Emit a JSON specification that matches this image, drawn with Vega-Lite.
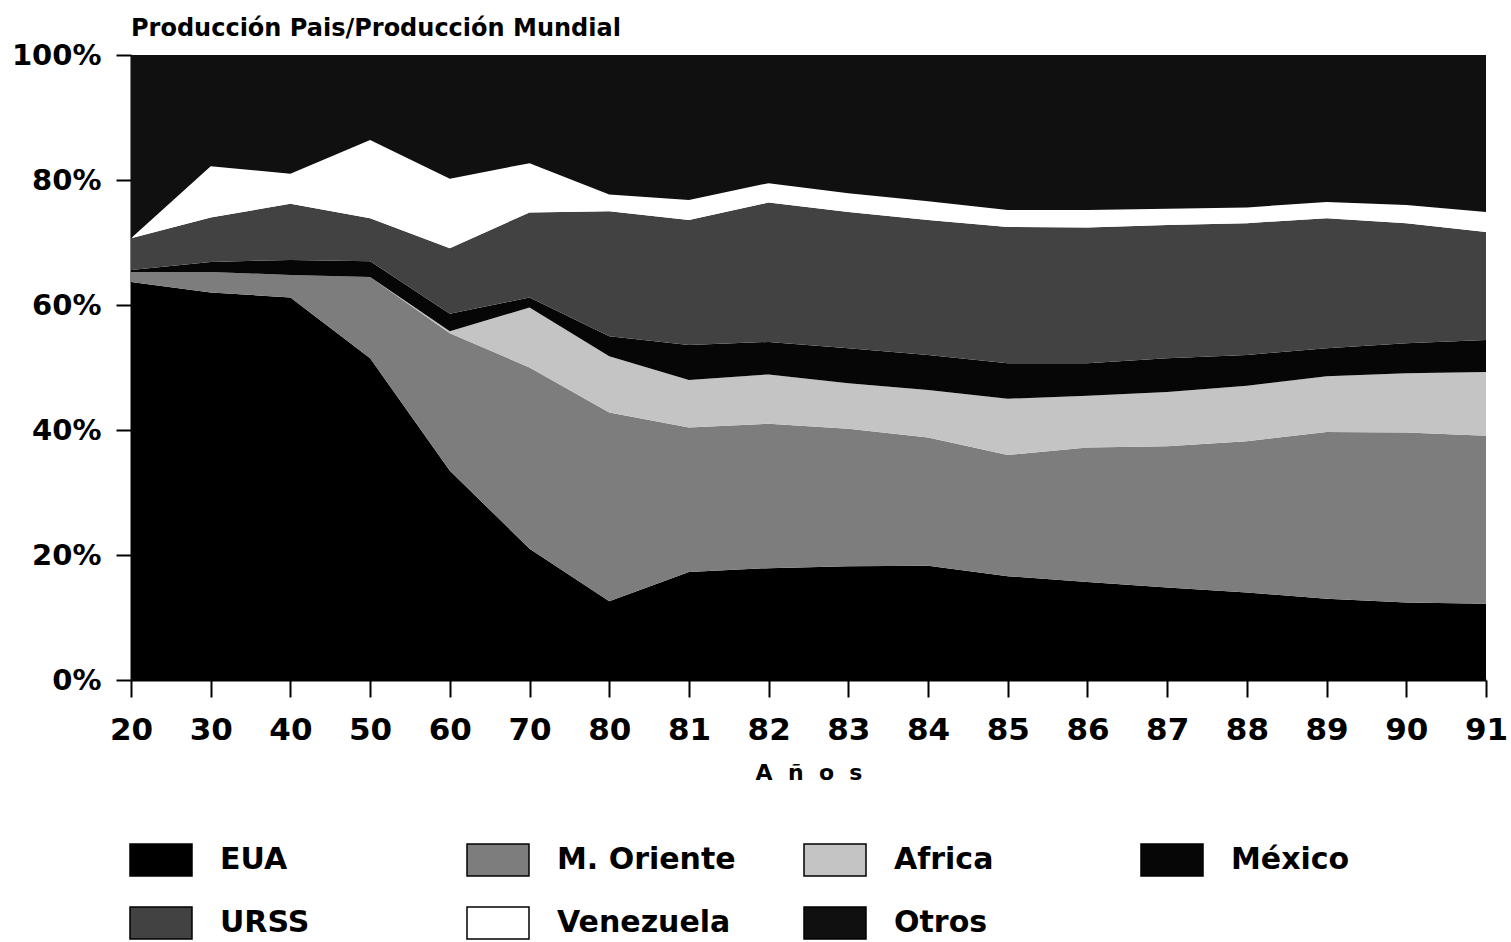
{
  "$schema": "https://vega.github.io/schema/vega-lite/v6.json",
  "width": 1355,
  "height": 625,
  "autosize": {"type": "none"},
  "padding": {"left": 131, "top": 55, "right": 25, "bottom": 262},
  "background": "white",
  "config": {"view": {"stroke": null}, "font": "DejaVu Sans"},
  "title": {"text": "Producción Pais/Producción Mundial", "anchor": "start", "frame": "group", "font": "DejaVu Sans", "fontSize": 24, "fontWeight": "bold", "color": "black", "offset": 0},
  "data": {"values": [
    {"anio":"20","pais":"EUA","orden":1,"pct":63.7},{"anio":"20","pais":"M. Oriente","orden":2,"pct":1.6},{"anio":"20","pais":"Africa","orden":3,"pct":0},{"anio":"20","pais":"México","orden":4,"pct":0.3},{"anio":"20","pais":"URSS","orden":5,"pct":5.1},{"anio":"20","pais":"Venezuela","orden":6,"pct":0},{"anio":"20","pais":"Otros","orden":7,"pct":29.3},
    {"anio":"30","pais":"EUA","orden":1,"pct":62.0},{"anio":"30","pais":"M. Oriente","orden":2,"pct":3.3},{"anio":"30","pais":"Africa","orden":3,"pct":0},{"anio":"30","pais":"México","orden":4,"pct":1.6},{"anio":"30","pais":"URSS","orden":5,"pct":7.1},{"anio":"30","pais":"Venezuela","orden":6,"pct":8.2},{"anio":"30","pais":"Otros","orden":7,"pct":17.8},
    {"anio":"40","pais":"EUA","orden":1,"pct":61.2},{"anio":"40","pais":"M. Oriente","orden":2,"pct":3.6},{"anio":"40","pais":"Africa","orden":3,"pct":0},{"anio":"40","pais":"México","orden":4,"pct":2.4},{"anio":"40","pais":"URSS","orden":5,"pct":9.0},{"anio":"40","pais":"Venezuela","orden":6,"pct":4.8},{"anio":"40","pais":"Otros","orden":7,"pct":19.0},
    {"anio":"50","pais":"EUA","orden":1,"pct":51.5},{"anio":"50","pais":"M. Oriente","orden":2,"pct":13.0},{"anio":"50","pais":"Africa","orden":3,"pct":0},{"anio":"50","pais":"México","orden":4,"pct":2.5},{"anio":"50","pais":"URSS","orden":5,"pct":6.9},{"anio":"50","pais":"Venezuela","orden":6,"pct":12.5},{"anio":"50","pais":"Otros","orden":7,"pct":13.6},
    {"anio":"60","pais":"EUA","orden":1,"pct":33.5},{"anio":"60","pais":"M. Oriente","orden":2,"pct":22.0},{"anio":"60","pais":"Africa","orden":3,"pct":0.3},{"anio":"60","pais":"México","orden":4,"pct":2.8},{"anio":"60","pais":"URSS","orden":5,"pct":10.5},{"anio":"60","pais":"Venezuela","orden":6,"pct":11.1},{"anio":"60","pais":"Otros","orden":7,"pct":19.8},
    {"anio":"70","pais":"EUA","orden":1,"pct":21.0},{"anio":"70","pais":"M. Oriente","orden":2,"pct":29.0},{"anio":"70","pais":"Africa","orden":3,"pct":9.6},{"anio":"70","pais":"México","orden":4,"pct":1.6},{"anio":"70","pais":"URSS","orden":5,"pct":13.6},{"anio":"70","pais":"Venezuela","orden":6,"pct":7.9},{"anio":"70","pais":"Otros","orden":7,"pct":17.3},
    {"anio":"80","pais":"EUA","orden":1,"pct":12.6},{"anio":"80","pais":"M. Oriente","orden":2,"pct":30.2},{"anio":"80","pais":"Africa","orden":3,"pct":9.0},{"anio":"80","pais":"México","orden":4,"pct":3.2},{"anio":"80","pais":"URSS","orden":5,"pct":20.0},{"anio":"80","pais":"Venezuela","orden":6,"pct":2.7},{"anio":"80","pais":"Otros","orden":7,"pct":22.3},
    {"anio":"81","pais":"EUA","orden":1,"pct":17.3},{"anio":"81","pais":"M. Oriente","orden":2,"pct":23.1},{"anio":"81","pais":"Africa","orden":3,"pct":7.6},{"anio":"81","pais":"México","orden":4,"pct":5.6},{"anio":"81","pais":"URSS","orden":5,"pct":20.0},{"anio":"81","pais":"Venezuela","orden":6,"pct":3.2},{"anio":"81","pais":"Otros","orden":7,"pct":23.2},
    {"anio":"82","pais":"EUA","orden":1,"pct":17.9},{"anio":"82","pais":"M. Oriente","orden":2,"pct":23.1},{"anio":"82","pais":"Africa","orden":3,"pct":7.9},{"anio":"82","pais":"México","orden":4,"pct":5.2},{"anio":"82","pais":"URSS","orden":5,"pct":22.3},{"anio":"82","pais":"Venezuela","orden":6,"pct":3.1},{"anio":"82","pais":"Otros","orden":7,"pct":20.5},
    {"anio":"83","pais":"EUA","orden":1,"pct":18.2},{"anio":"83","pais":"M. Oriente","orden":2,"pct":22.0},{"anio":"83","pais":"Africa","orden":3,"pct":7.3},{"anio":"83","pais":"México","orden":4,"pct":5.6},{"anio":"83","pais":"URSS","orden":5,"pct":21.8},{"anio":"83","pais":"Venezuela","orden":6,"pct":3.0},{"anio":"83","pais":"Otros","orden":7,"pct":22.1},
    {"anio":"84","pais":"EUA","orden":1,"pct":18.3},{"anio":"84","pais":"M. Oriente","orden":2,"pct":20.5},{"anio":"84","pais":"Africa","orden":3,"pct":7.6},{"anio":"84","pais":"México","orden":4,"pct":5.6},{"anio":"84","pais":"URSS","orden":5,"pct":21.6},{"anio":"84","pais":"Venezuela","orden":6,"pct":3.0},{"anio":"84","pais":"Otros","orden":7,"pct":23.4},
    {"anio":"85","pais":"EUA","orden":1,"pct":16.6},{"anio":"85","pais":"M. Oriente","orden":2,"pct":19.4},{"anio":"85","pais":"Africa","orden":3,"pct":9.0},{"anio":"85","pais":"México","orden":4,"pct":5.7},{"anio":"85","pais":"URSS","orden":5,"pct":21.8},{"anio":"85","pais":"Venezuela","orden":6,"pct":2.7},{"anio":"85","pais":"Otros","orden":7,"pct":24.8},
    {"anio":"86","pais":"EUA","orden":1,"pct":15.7},{"anio":"86","pais":"M. Oriente","orden":2,"pct":21.5},{"anio":"86","pais":"Africa","orden":3,"pct":8.3},{"anio":"86","pais":"México","orden":4,"pct":5.2},{"anio":"86","pais":"URSS","orden":5,"pct":21.7},{"anio":"86","pais":"Venezuela","orden":6,"pct":2.8},{"anio":"86","pais":"Otros","orden":7,"pct":24.8},
    {"anio":"87","pais":"EUA","orden":1,"pct":14.8},{"anio":"87","pais":"M. Oriente","orden":2,"pct":22.6},{"anio":"87","pais":"Africa","orden":3,"pct":8.7},{"anio":"87","pais":"México","orden":4,"pct":5.4},{"anio":"87","pais":"URSS","orden":5,"pct":21.3},{"anio":"87","pais":"Venezuela","orden":6,"pct":2.6},{"anio":"87","pais":"Otros","orden":7,"pct":24.6},
    {"anio":"88","pais":"EUA","orden":1,"pct":14.0},{"anio":"88","pais":"M. Oriente","orden":2,"pct":24.2},{"anio":"88","pais":"Africa","orden":3,"pct":8.9},{"anio":"88","pais":"México","orden":4,"pct":4.9},{"anio":"88","pais":"URSS","orden":5,"pct":21.1},{"anio":"88","pais":"Venezuela","orden":6,"pct":2.5},{"anio":"88","pais":"Otros","orden":7,"pct":24.4},
    {"anio":"89","pais":"EUA","orden":1,"pct":13.0},{"anio":"89","pais":"M. Oriente","orden":2,"pct":26.7},{"anio":"89","pais":"Africa","orden":3,"pct":8.9},{"anio":"89","pais":"México","orden":4,"pct":4.5},{"anio":"89","pais":"URSS","orden":5,"pct":20.8},{"anio":"89","pais":"Venezuela","orden":6,"pct":2.6},{"anio":"89","pais":"Otros","orden":7,"pct":23.5},
    {"anio":"90","pais":"EUA","orden":1,"pct":12.4},{"anio":"90","pais":"M. Oriente","orden":2,"pct":27.2},{"anio":"90","pais":"Africa","orden":3,"pct":9.5},{"anio":"90","pais":"México","orden":4,"pct":4.8},{"anio":"90","pais":"URSS","orden":5,"pct":19.2},{"anio":"90","pais":"Venezuela","orden":6,"pct":2.9},{"anio":"90","pais":"Otros","orden":7,"pct":24.0},
    {"anio":"91","pais":"EUA","orden":1,"pct":12.2},{"anio":"91","pais":"M. Oriente","orden":2,"pct":26.9},{"anio":"91","pais":"Africa","orden":3,"pct":10.2},{"anio":"91","pais":"México","orden":4,"pct":5.1},{"anio":"91","pais":"URSS","orden":5,"pct":17.3},{"anio":"91","pais":"Venezuela","orden":6,"pct":3.2},{"anio":"91","pais":"Otros","orden":7,"pct":25.1}
  ]},
  "mark": {"type": "area", "interpolate": "linear", "opacity": 1},
  "encoding": {
    "x": {
      "field": "anio", "type": "ordinal",
      "sort": ["20","30","40","50","60","70","80","81","82","83","84","85","86","87","88","89","90","91"],
      "scale": {"type": "point", "padding": 0},
      "axis": {"title": "A\u00a0\u00a0ñ\u00a0\u00a0o\u00a0\u00a0s", "titleFont": "DejaVu Sans", "titleFontSize": 22, "titleFontWeight": "bold", "titleColor": "black", "titlePadding": 17,
               "labelFont": "DejaVu Sans", "labelFontSize": 31, "labelFontWeight": "bold", "labelColor": "black", "labelAngle": 0, "labelPadding": 18,
               "tickSize": 17, "tickWidth": 2, "tickColor": "black", "domainColor": "black", "domainWidth": 2, "grid": false}
    },
    "y": {
      "field": "pct", "type": "quantitative", "stack": "zero",
      "scale": {"domain": [0, 100], "nice": false},
      "axis": {"title": null, "values": [0,20,40,60,80,100], "labelExpr": "datum.value + '%'",
               "labelFont": "DejaVu Sans", "labelFontSize": 29, "labelFontWeight": "bold", "labelColor": "black", "labelPadding": 15,
               "tickSize": 15, "tickWidth": 2, "tickColor": "black", "domainColor": "black", "domainWidth": 2, "grid": false}
    },
    "color": {
      "field": "pais", "type": "nominal",
      "scale": {"domain": ["EUA","M. Oriente","Africa","México","URSS","Venezuela","Otros"],
                "range": ["#000000","#7d7d7d","#c4c4c4","#060606","#424242","#ffffff","#101010"]},
      "legend": {"title": null, "orient": "none", "legendX": -2, "legendY": 773, "direction": "horizontal", "columns": 4, "gridAlign": "all",
                 "columnPadding": 65, "rowPadding": 12, "padding": 0,
                 "symbolType": "M-1,-0.516L1,-0.516L1,0.516L-1,0.516Z", "symbolSize": 3844, "symbolStrokeColor": "black", "symbolStrokeWidth": 1.5, "symbolOpacity": 1,
                 "labelFont": "DejaVu Sans", "labelFontSize": 30, "labelFontWeight": "bold", "labelColor": "black", "labelOffset": 27, "labelLimit": 400}
    },
    "order": {"field": "orden", "type": "quantitative"}
  }
}
